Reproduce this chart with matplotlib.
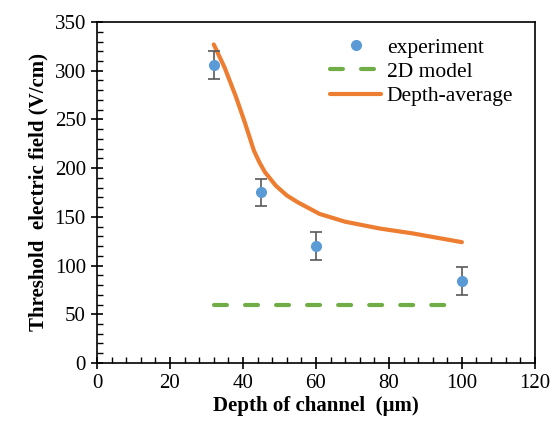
import matplotlib
matplotlib.use("Agg")
import matplotlib.pyplot as plt
from matplotlib.ticker import MultipleLocator
from matplotlib.lines import Line2D

plt.rcParams['font.family'] = ['Liberation Serif', 'DejaVu Serif']
plt.rcParams['xtick.direction'] = 'in'
plt.rcParams['ytick.direction'] = 'in'

# experiment points
depth_exp = [32, 45, 60, 100]
field_exp = [306, 175, 120, 84]
field_err = [14, 14, 14, 14]

# 2D model - flat line
depth_2d = [32, 100]
field_2d = [60, 60]

# depth-averaged model curve
depth_avg = [32, 35, 38, 40.5, 43, 44.5, 46, 49, 52, 55, 61, 68, 77.5, 86.5, 100]
field_avg = [327, 303, 274, 247, 218, 206, 196, 182, 172, 165, 153, 145, 138, 133, 124]

fig = plt.figure(figsize=(5.56, 4.24), dpi=100)
ax = fig.add_axes([0.1745, 0.144, 0.7875, 0.804])

ax.errorbar(depth_exp, field_exp, yerr=field_err, fmt='o', color='#5B9BD5',
            ms=7, ecolor='#595959', elinewidth=1.2, capsize=4, capthick=1.2,
            zorder=3)
l2d, = ax.plot(depth_2d, field_2d, color='#70AD47', lw=3, ls=(0, (3.1, 4.35)),
               dash_capstyle='round', label='2D model')
lavg, = ax.plot(depth_avg, field_avg, color='#ED7D31', lw=3,
                solid_capstyle='round', solid_joinstyle='round',
                label='Depth-average')

ax.set_xlim(0, 120)
ax.set_ylim(0, 350)
ax.xaxis.set_major_locator(MultipleLocator(20))
ax.xaxis.set_minor_locator(MultipleLocator(4))
ax.yaxis.set_major_locator(MultipleLocator(50))
ax.yaxis.set_minor_locator(MultipleLocator(10))
ax.tick_params(which='major', direction='inout', length=9, width=1.2,
               labelsize=15, top=False, right=False)
ax.tick_params(which='minor', direction='in', length=4.5, width=1.0,
               top=False, right=False)
for s in ax.spines.values():
    s.set_linewidth(1.2)

ax.set_xlabel('Depth of channel  (\u00b5m)', fontsize=15, fontweight='bold', labelpad=2)
ax.set_ylabel('Threshold  electric field (V/cm)', fontsize=15, fontweight='bold', labelpad=4)

# legend: marker only for experiment
hexp = Line2D([], [], ls='none', marker='o', ms=7, color='#5B9BD5')
ax.legend([hexp, l2d, lavg], ['experiment', '2D model', 'Depth-average'],
          loc='upper right', frameon=False, fontsize=15.5,
          handlelength=2.4, handletextpad=0.25, labelspacing=0.2,
          borderaxespad=0.6, bbox_to_anchor=(1.0, 1.018))

fig.savefig('out.png', dpi=100)
